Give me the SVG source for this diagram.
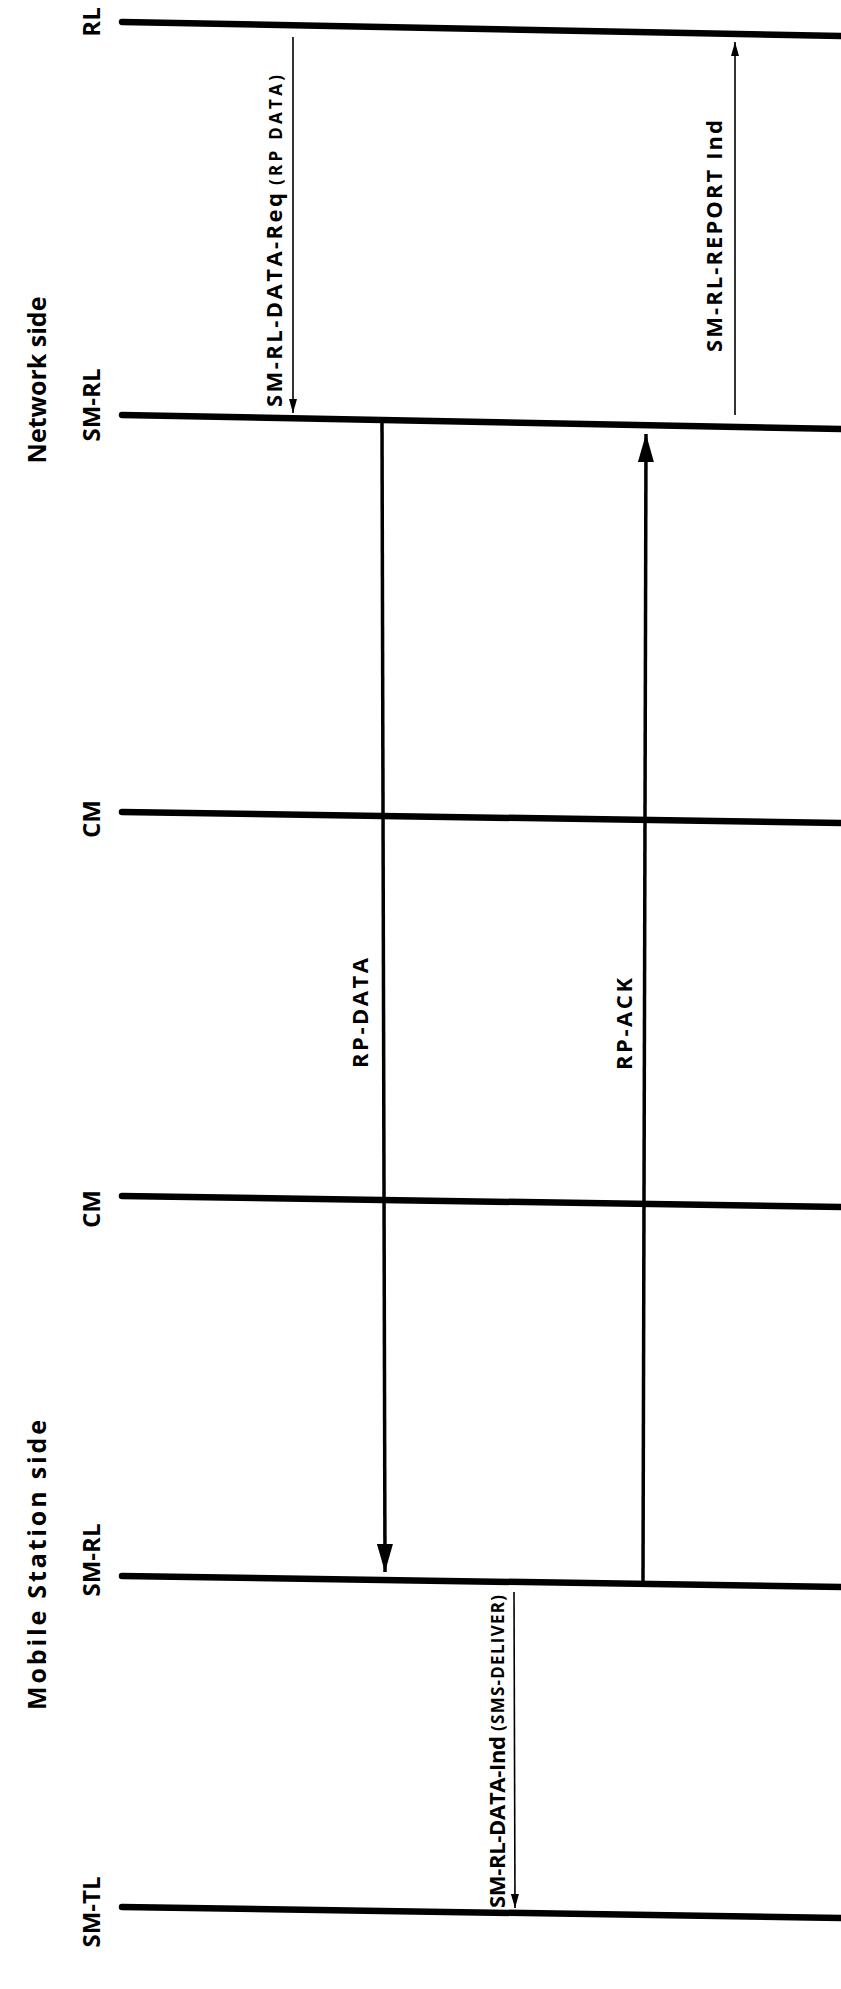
<svg xmlns="http://www.w3.org/2000/svg" width="841" height="1989" viewBox="0 0 841 1989">
<style>
.bg{fill:#fff}
.life{stroke:#000;stroke-width:6.5;stroke-linecap:round;fill:none}
.lbl{font-family:"Open Sans","Liberation Sans",Arial,sans-serif;font-weight:700;font-size:24px;fill:#000;text-anchor:middle}
.side{font-family:"Open Sans","Liberation Sans",Arial,sans-serif;font-weight:700;font-size:25px;fill:#000;text-anchor:middle}
.msg{font-family:"Open Sans","Liberation Sans",Arial,sans-serif;font-weight:700;font-size:22px;fill:#000}
.msgs{font-family:"Open Sans","Liberation Sans",Arial,sans-serif;font-weight:700;font-size:17px;fill:#000}
.thin{stroke:#000;stroke-width:1.6;fill:none}
.thick{stroke:#000;stroke-width:3.5;fill:none}
</style>
<defs>
<marker id="ahS" markerUnits="userSpaceOnUse" viewBox="0 0 14 8" refX="14" refY="4" markerWidth="14" markerHeight="8" orient="auto"><path d="M0,0 L14,4 L0,8 z" fill="#000"/></marker>
<marker id="ahL" markerUnits="userSpaceOnUse" viewBox="0 0 28 16" refX="28" refY="8" markerWidth="28" markerHeight="16" orient="auto"><path d="M0,0 L28,8 L0,16 z" fill="#000"/></marker>
</defs>
<rect class="bg" x="0" y="0" width="841" height="1989"/>

<g id="side-network"><text class="side" transform="translate(46,380) rotate(-90)">Network side</text></g>
<g id="side-mobile"><text class="side" transform="translate(46,1565) rotate(-90)" textLength="290" lengthAdjust="spacing">Mobile Station side</text></g>

<g id="node-rl"><line class="life" x1="122" y1="22" x2="845" y2="36"/><text class="lbl" transform="translate(100,22) rotate(-90)">RL</text></g>
<g id="node-smrl-net"><line class="life" x1="122" y1="415" x2="845" y2="429"/><text class="lbl" transform="translate(100,405) rotate(-90)">SM-RL</text></g>
<g id="node-cm-net"><line class="life" x1="122" y1="812" x2="845" y2="823"/><text class="lbl" transform="translate(100,819) rotate(-90)">CM</text></g>
<g id="node-cm-ms"><line class="life" x1="122" y1="1196" x2="845" y2="1207"/><text class="lbl" transform="translate(100,1209) rotate(-90)">CM</text></g>
<g id="node-smrl-ms"><line class="life" x1="122" y1="1576" x2="845" y2="1587"/><text class="lbl" transform="translate(100,1560) rotate(-90)">SM-RL</text></g>
<g id="node-smtl"><line class="life" x1="122" y1="1907" x2="845" y2="1918"/><text class="lbl" transform="translate(100,1912) rotate(-90)">SM-TL</text></g>

<g id="connectors">
<line class="thin" x1="293" y1="37" x2="293" y2="413" marker-end="url(#ahS)"/>
<text class="msg" transform="translate(282,407) rotate(-90)" textLength="214" lengthAdjust="spacing">SM-RL-DATA-Req</text>
<text class="msgs" transform="translate(282,185) rotate(-90)" textLength="110" lengthAdjust="spacing">(RP DATA)</text>

<line class="thin" x1="735" y1="415" x2="735" y2="42" marker-end="url(#ahS)"/>
<text class="msg" transform="translate(722,352) rotate(-90)" textLength="232" lengthAdjust="spacing">SM-RL-REPORT Ind</text>

<line class="thick" x1="382" y1="420" x2="385" y2="1572" marker-end="url(#ahL)"/>
<text class="msg" transform="translate(368,1068) rotate(-90)" textLength="110" lengthAdjust="spacing">RP-DATA</text>

<line class="thick" x1="643" y1="1582" x2="646" y2="434" marker-end="url(#ahL)"/>
<text class="msg" transform="translate(632,1070) rotate(-90)" textLength="92" lengthAdjust="spacing">RP-ACK</text>

<line class="thin" x1="514" y1="1592" x2="515" y2="1908" marker-end="url(#ahS)"/>
<text class="msg" transform="translate(505,1908) rotate(-90)" textLength="172" lengthAdjust="spacing">SM-RL-DATA-Ind</text>
<text class="msgs" transform="translate(504,1731) rotate(-90)" textLength="136" lengthAdjust="spacing">(SMS-DELIVER)</text>
</g>
</svg>
